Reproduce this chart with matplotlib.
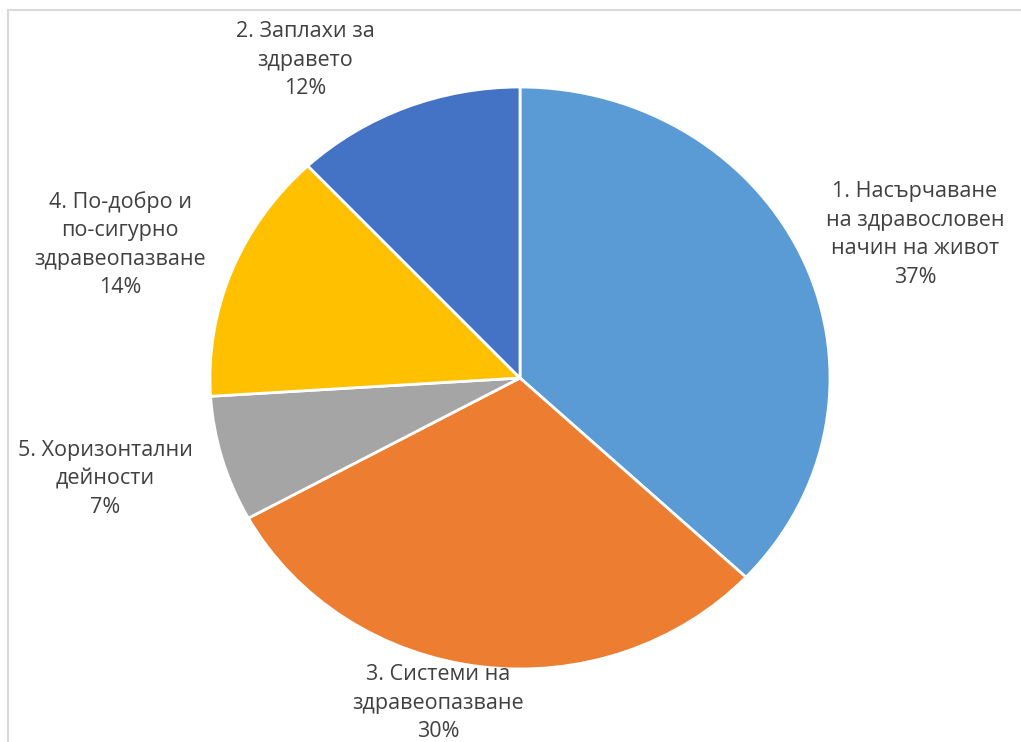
import matplotlib.pyplot as plt
from matplotlib.patches import Rectangle

plt.rcParams['font.family'] = ['Open Sans', 'DejaVu Sans']

labels = ['1. Насърчаване\nна здравословен\nначин на живот',
          '3. Системи на\nздравеопазване',
          '5. Хоризонтални\nдейности',
          '4. По-добро и\nпо-сигурно\nздравеопазване',
          '2. Заплахи за\nздравето']
shares = [37, 30, 7, 14, 12]
colors = ['#5B9BD5', '#ED7D31', '#A5A5A5', '#FFC000', '#4472C4']

# label centres in figure pixels (x, y of first line)
label_pos = [(915, 190), (438, 673), (105, 449), (120, 200), (305, 30)]

W, H = 1021, 742
fig = plt.figure(figsize=(W / 100, H / 100), dpi=100)

# light frame like the exported chart area
fig.patches.append(Rectangle((8 / W, -0.1), 1.2, 1 - 10 / H + 0.1,
                             transform=fig.transFigure, fill=False,
                             edgecolor='#D9D9D9', linewidth=1.5))

cx, cy, rx, ry = 520, 378, 310, 291
ax = fig.add_axes([(cx - rx) / W, (H - cy - ry) / H, 2 * rx / W, 2 * ry / H])
ax.pie(shares, colors=colors, startangle=90, counterclock=False,
       wedgeprops=dict(edgecolor='white', linewidth=2))
ax.set_aspect('auto')
ax.set_xlim(-1, 1)
ax.set_ylim(-1, 1)
ax.axis('off')

for lab, val, (x, y) in zip(labels, shares, label_pos):
    fig.text(x / W, 1 - (y - 9) / H, lab + '\n' + str(val) + '%',
             ha='center', va='top', fontsize=15.5, color='#404040',
             linespacing=1.47)

fig.savefig('out.png', dpi=100)
